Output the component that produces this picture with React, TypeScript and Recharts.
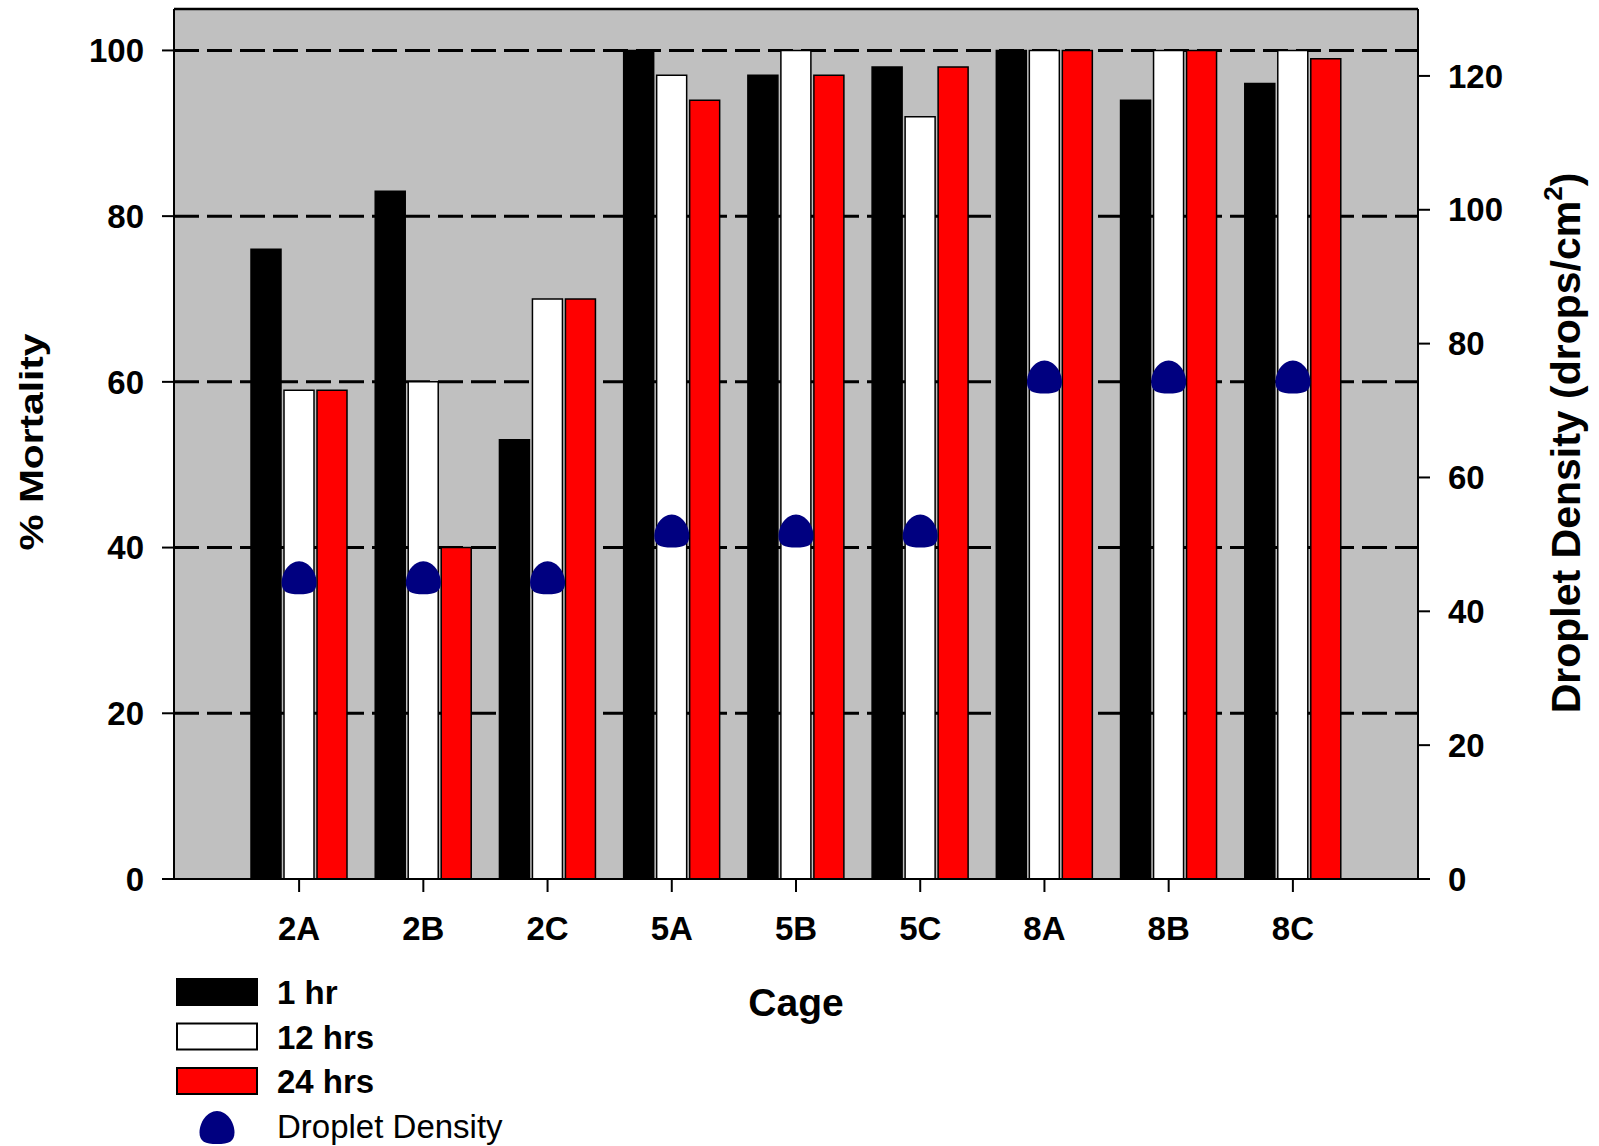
import React from 'react';
import {
  ComposedChart,
  Bar,
  Line,
  XAxis,
  YAxis,
  CartesianGrid,
  Legend,
  ReferenceLine,
} from 'recharts';

const cages = ['2A', '2B', '2C', '5A', '5B', '5C', '8A', '8B', '8C'];
const oneHr = [76, 83, 53, 100, 97, 98, 100, 94, 96];
const twelveHrs = [59, 60, 70, 97, 100, 92, 100, 100, 100];
const twentyFourHrs = [59, 40, 70, 94, 97, 98, 100, 100, 99];
const dropletDensity = [45, 45, 45, 52, 52, 52, 75, 75, 75];
const mortalityTicks = [0, 20, 40, 60, 80, 100];
const gridValues = [20, 40, 60, 80, 100];
const densityTicks = [0, 20, 40, 60, 80, 100, 120];
const mortalityMax = 105;
const densityMax = 130;

const data = cages.map((cage, i) => ({
  cage,
  h1: oneHr[i],
  h12: twelveHrs[i],
  h24: twentyFourHrs[i],
  density: dropletDensity[i],
}));

const FONT = '"Liberation Sans", Arial, Helvetica, sans-serif';
const NAVY = '#000080';

const blobPath = (cx: number, cy: number) =>
  `M ${cx} ${cy - 16.5} C ${cx + 10} ${cy - 16.5} ${cx + 17.5} ${cy - 5} ${cx + 17.5} ${cy + 5} ` +
  `C ${cx + 17.5} ${cy + 14} ${cx + 12} ${cy + 16.5} ${cx} ${cy + 16.5} ` +
  `C ${cx - 12} ${cy + 16.5} ${cx - 17.5} ${cy + 14} ${cx - 17.5} ${cy + 5} ` +
  `C ${cx - 17.5} ${cy - 5} ${cx - 10} ${cy - 16.5} ${cx} ${cy - 16.5} Z`;

const DensityDot = (props: any) => {
  const { cx, cy, index } = props;
  if (cx == null || cy == null) return <g key={`d-${index}`} />;
  return <path key={`d-${index}`} d={blobPath(cx, cy)} fill={NAVY} stroke="none" />;
};

const legendItems = [
  { name: '1 hr', fill: '#000000', kind: 'rect', bold: true },
  { name: '12 hrs', fill: '#FFFFFF', kind: 'rect', bold: true },
  { name: '24 hrs', fill: '#FF0000', kind: 'rect', bold: true },
  { name: 'Droplet Density', fill: NAVY, kind: 'blob', bold: false },
];

const LegendContent = () => (
  <svg width={600} height={186} style={{ display: 'block' }}>
    {legendItems.map((it, i) => {
      const cy = 32 + i * 44.5;
      return (
        <g key={it.name}>
          {it.kind === 'rect' ? (
            <rect x={177} y={cy - 13} width={80} height={26} fill={it.fill} stroke="#000" strokeWidth={2} />
          ) : (
            <path d={blobPath(217, cy + 2)} fill={it.fill} />
          )}
          <text
            x={277}
            y={cy + 12}
            fontFamily={FONT}
            fontSize={33}
            fontWeight={it.bold ? 'bold' : 'normal'}
            fill="#000"
          >
            {it.name}
          </text>
        </g>
      );
    })}
  </svg>
);

const tickStyle = { fontSize: 33, fontWeight: 'bold', fill: '#000', fontFamily: FONT };

export default function App() {
  return (
    <div style={{ position: 'absolute', left: 0, top: 0, width: 1599, height: 1146, background: '#fff' }}>
      <ComposedChart
        width={1599}
        height={1146}
        data={data}
        margin={{ top: 9, right: 0, bottom: 0, left: 0 }}
        barSize={30}
        barGap={3}
      >
        <CartesianGrid
          yAxisId="left"
          vertical={false}
          horizontalValues={gridValues}
          fill="#C0C0C0"
          stroke="#000"
          strokeWidth={3}
          strokeDasharray="25 8"
        />
        <XAxis
          dataKey="cage"
          type="category"
          height={267}
          padding={{ left: 63, right: 63 }}
          tick={tickStyle}
          tickSize={13}
          tickMargin={25}
          axisLine={{ stroke: '#000', strokeWidth: 2 }}
          tickLine={{ stroke: '#000', strokeWidth: 2 }}
          interval={0}
          label={(p: any) => {
            const vb = p.viewBox;
            return (
              <text
                x={vb.x + vb.width / 2}
                y={vb.y + 137}
                textAnchor="middle"
                fontFamily={FONT}
                fontSize={39}
                fontWeight="bold"
                fill="#000"
              >
                Cage
              </text>
            );
          }}
        />
        <YAxis
          yAxisId="left"
          orientation="left"
          width={174}
          domain={[0, mortalityMax]}
          ticks={mortalityTicks}
          allowDataOverflow
          tick={tickStyle}
          tickSize={12}
          tickMargin={18}
          axisLine={{ stroke: '#000', strokeWidth: 2 }}
          tickLine={{ stroke: '#000', strokeWidth: 2 }}
          label={(p: any) => {
            const vb = p.viewBox;
            const cx = vb.x + 31;
            const cy = vb.y + vb.height / 2 - 2;
            return (
              <text
                x={cx}
                y={cy}
                dy="0.36em"
                transform={`rotate(-90, ${cx}, ${cy})`}
                textAnchor="middle"
                fontFamily={FONT}
                fontSize={34}
                fontWeight="bold"
                fill="#000"
                textLength={217}
                lengthAdjust="spacingAndGlyphs"
              >
                % Mortality
              </text>
            );
          }}
        />
        <YAxis
          yAxisId="right"
          orientation="right"
          width={181}
          domain={[0, densityMax]}
          ticks={densityTicks}
          allowDataOverflow
          tick={tickStyle}
          tickSize={12}
          tickMargin={18}
          axisLine={{ stroke: '#000', strokeWidth: 2 }}
          tickLine={{ stroke: '#000', strokeWidth: 2 }}
          label={(p: any) => {
            const vb = p.viewBox;
            const cx = vb.x + 147;
            const cy = vb.y + vb.height / 2 - 1;
            return (
              <text
                x={cx}
                y={cy}
                dy="0.36em"
                transform={`rotate(-90, ${cx}, ${cy})`}
                textAnchor="middle"
                fontFamily={FONT}
                fontSize={41}
                fontWeight="bold"
                fill="#000"
              >
                Droplet Density (drops/cm
                <tspan fontSize={26} dy={-18}>2</tspan>
                <tspan dy={18}>)</tspan>
              </text>
            );
          }}
        />
        <ReferenceLine
          yAxisId="left"
          y={mortalityMax}
          stroke="#000"
          strokeWidth={2.5}
          ifOverflow="visible"
        />
        <Bar yAxisId="left" dataKey="h1" name="1 hr" fill="#000000" stroke="#000" strokeWidth={1.5} isAnimationActive={false} />
        <Bar yAxisId="left" dataKey="h12" name="12 hrs" fill="#FFFFFF" stroke="#000" strokeWidth={1.5} isAnimationActive={false} />
        <Bar yAxisId="left" dataKey="h24" name="24 hrs" fill="#FF0000" stroke="#000" strokeWidth={1.5} isAnimationActive={false} />
        <Line
          yAxisId="right"
          dataKey="density"
          name="Droplet Density"
          stroke="none"
          dot={DensityDot}
          activeDot={false}
          isAnimationActive={false}
        />
        <Legend
          layout="horizontal"
          verticalAlign="middle"
          align="center"
          wrapperStyle={{ left: 0, top: 960, width: 600, height: 186 }}
          content={LegendContent}
        />
      </ComposedChart>
    </div>
  );
}
